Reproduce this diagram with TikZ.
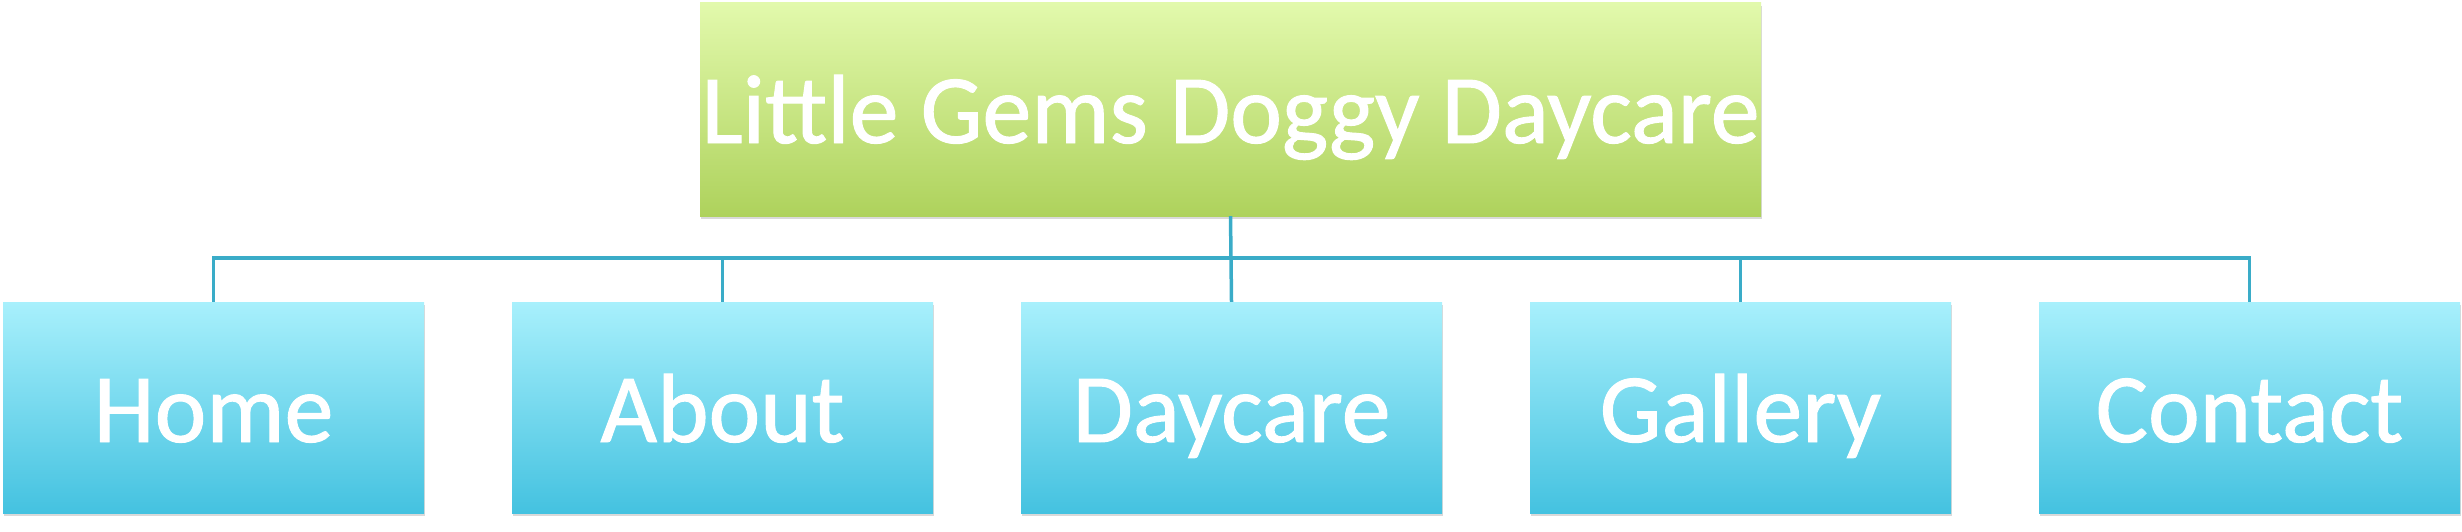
\documentclass[tikz,border=0pt]{standalone}
\usepackage{fontspec}
\setmainfont{Carlito}
\newfontfamily\boxfont{Carlito}[FakeBold=1.0]
\usetikzlibrary{shadows}
\definecolor{gtop}{HTML}{E2F9AC}
\definecolor{gbot}{HTML}{AED25C}
\definecolor{btop}{HTML}{A8F0FC}
\definecolor{bbot}{HTML}{44C2E0}
\definecolor{linec}{HTML}{3AACC8}
\tikzset{
  rootbox/.style={rectangle, minimum width=1061pt, minimum height=213pt,
    top color=gtop, bottom color=gbot, draw=none, inner sep=0pt,
    drop shadow={shadow xshift=1pt, shadow yshift=-3pt, opacity=0.25, fill=black!60},
    text=white, font=\boxfont\fontsize{98}{108}\selectfont, text height=67pt, text depth=0pt},
  childbox/.style={rectangle, minimum width=421pt, minimum height=211pt,
    top color=btop, bottom color=bbot, draw=none, inner sep=0pt,
    drop shadow={shadow xshift=1pt, shadow yshift=-3pt, opacity=0.25, fill=black!60},
    text=white, font=\boxfont\fontsize{98}{108}\selectfont, text height=69pt, text depth=0pt},
  conn/.style={draw=linec, line width=3.5pt}
}
\begin{document}
\begin{tikzpicture}[x=1pt,y=-1pt]
\useasboundingbox (0,0) rectangle (2462,532);
\coordinate (bus) at (0,258);
\node[rootbox] (root) at (1230.5,109.5) {Little Gems Doggy Daycare};
\node[childbox] (home) at (213.5,407.5) {Home};
\node[childbox] (about) at (722.5,407.5) {About};
\node[childbox] (daycare) at (1231.5,407.5) {Daycare};
\node[childbox] (gallery) at (1740.5,407.5) {Gallery};
\node[childbox] (contact) at (2249.5,407.5) {Contact};
\draw[conn] (root.south) -- (root.south |- bus) -| (home.north);
\draw[conn] (root.south) -- (root.south |- bus) -| (about.north);
\draw[conn] (root.south) -- (daycare.north);
\draw[conn] (root.south) -- (root.south |- bus) -| (gallery.north);
\draw[conn] (root.south) -- (root.south |- bus) -| (contact.north);
\end{tikzpicture}
\end{document}
